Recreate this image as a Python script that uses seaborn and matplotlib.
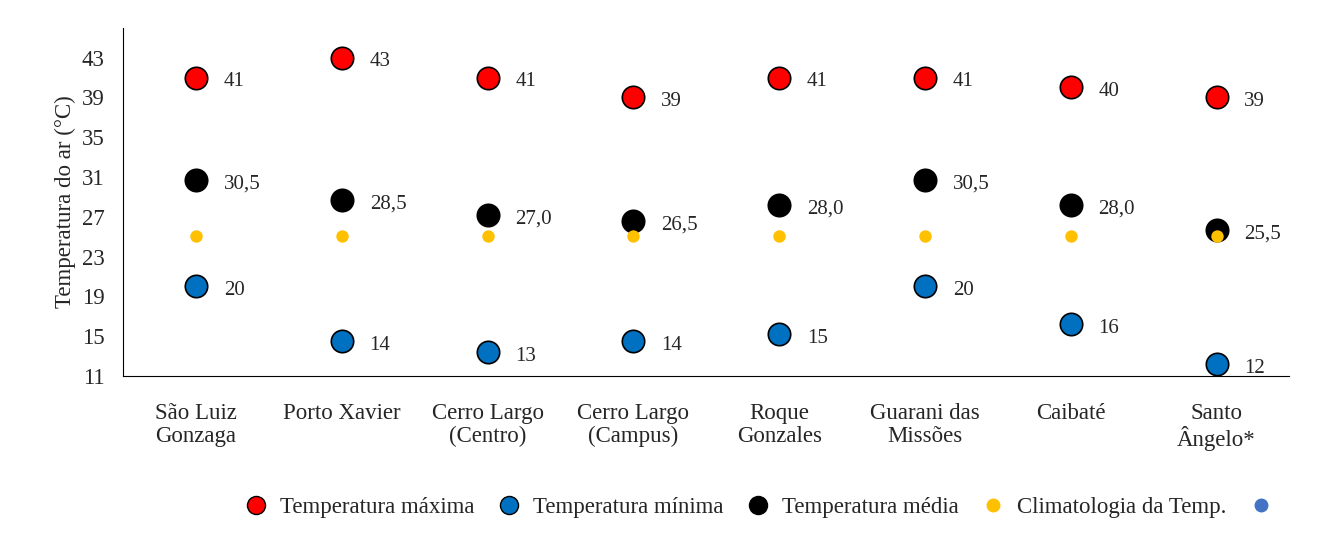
import pandas as pd
import seaborn as sns
import matplotlib.pyplot as plt
from matplotlib.lines import Line2D

sites = ["São Luiz\nGonzaga", "Porto Xavier", "Cerro Largo\n(Centro)", "Cerro Largo\n(Campus)",
         "Roque\nGonzales", "Guarani das\nMissões", "Caibaté", "Santo\nÂngelo*"]
t_max = [41, 43, 41, 39, 41, 41, 40, 39]
t_min = [20, 14.5, 13.4, 14.5, 15.2, 20, 16.2, 12.2]
t_min_lbl = ["20", "14", "13", "14", "15", "20", "16", "12"]
t_med = [30.7, 28.7, 27.2, 26.6, 28.2, 30.7, 28.2, 25.7]
t_med_lbl = ["30,5", "28,5", "27,0", "26,5", "28,0", "30,5", "28,0", "25,5"]
t_clim = [25.1] * 8

sns.set_style("white")
plt.rcParams["font.family"] = ["Liberation Serif", "DejaVu Serif"]

df = pd.DataFrame({"x": range(len(sites)), "max": t_max, "min": t_min, "med": t_med, "clim": t_clim})

fig = plt.figure(figsize=(13.39, 5.55), dpi=100)
ax = fig.add_axes([0.092, 0.3225, 0.871, 0.6275])

big = dict(s=260, edgecolor="black", linewidth=1.2, zorder=3)
sns.scatterplot(data=df, x="x", y="max", color="#FF0000", ax=ax, **big)
sns.scatterplot(data=df, x="x", y="min", color="#0070C0", ax=ax, **big)
sns.scatterplot(data=df, x="x", y="med", color="black", ax=ax, **big)
sns.scatterplot(data=df, x="x", y="clim", color="#FFC000", s=80, linewidth=0, ax=ax, zorder=4)

for i in range(len(sites)):
    for y, lbl in [(t_max[i], str(t_max[i])), (t_min[i], t_min_lbl[i]), (t_med[i], t_med_lbl[i])]:
        ax.annotate(lbl, (i, y), xytext=(20, -3), textcoords="offset points",
                    va="center", ha="left", fontsize=15)

ax.set_xlim(-0.5, 7.5)
ax.set_ylim(11, 46)
ax.set_yticks(range(11, 44, 4))
ax.set_xticks(range(len(sites)))
ax.set_xticklabels(sites, fontsize=16.5, linespacing=1.1)
ax.tick_params(axis="x", pad=16)
ax.tick_params(axis="y", labelsize=16.5, pad=10)
ax.set_xlabel("")
ax.set_ylabel("Temperatura do ar (°C)", fontsize=16.5)
for s in ["top", "right"]:
    ax.spines[s].set_visible(False)
for s in ["left", "bottom"]:
    ax.spines[s].set_color("black")

def dot(c, ms=13, ec="black"):
    return Line2D([], [], marker="o", ls="", markersize=ms, markerfacecolor=c, markeredgecolor=ec)

handles = [dot("#FF0000"), dot("#0070C0"), dot("black"), dot("#FFC000", 9, "#FFC000"), dot("#4472C4", 9, "#4472C4")]
labels = ["Temperatura máxima", "Temperatura mínima", "Temperatura média", "Climatologia da Temp.", ""]
fig.legend(handles, labels, loc="lower right", bbox_to_anchor=(0.975, 0.03), ncol=5, frameon=False,
           fontsize=16.5, handletextpad=0.05, columnspacing=0.5)

fig.savefig("out.png", dpi=100)
